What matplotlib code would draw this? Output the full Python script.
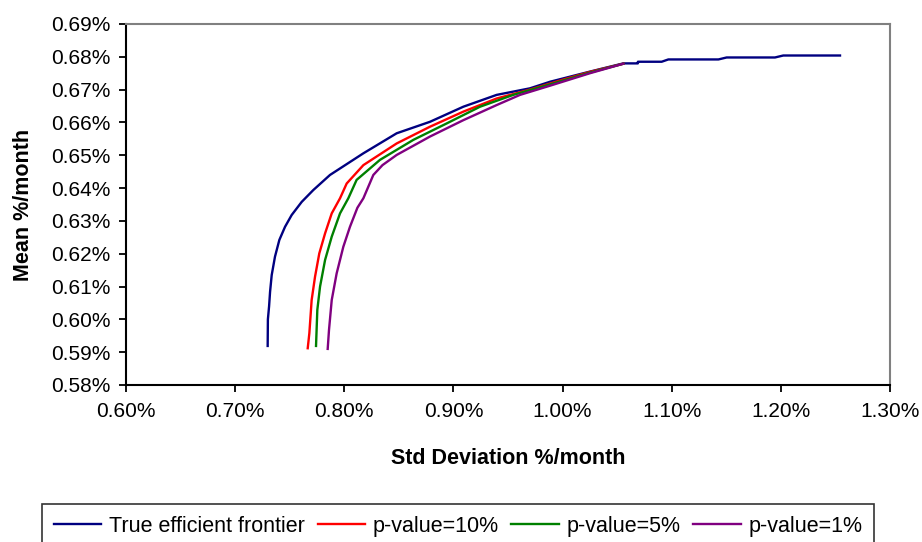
# Efficient frontier vs. p-value frontiers (mean vs std dev, % per month)
import matplotlib.pyplot as plt
from matplotlib.ticker import FuncFormatter

plt.rcParams['font.family'] = ['Liberation Sans', 'DejaVu Sans']

# values (% per month)
true_std = [0.7298, 0.7300, 0.7311, 0.7320, 0.7335, 0.7365, 0.7405, 0.7457, 0.7518, 0.7610,
            0.7716, 0.7869, 0.8175, 0.8480, 0.8785, 0.9091, 0.9396, 0.9701, 0.9885, 1.0251,
            1.0557, 1.0690, 1.0690, 1.0908, 1.0969, 1.1428, 1.1503, 1.1946, 1.2022, 1.2542]
true_mean = [0.5919, 0.6000, 0.6040, 0.6084, 0.6135, 0.6191, 0.6242, 0.6282, 0.6318, 0.6358,
             0.6394, 0.6440, 0.6506, 0.6567, 0.6602, 0.6648, 0.6684, 0.6704, 0.6724, 0.6755,
             0.6780, 0.6780, 0.6785, 0.6785, 0.6792, 0.6792, 0.6798, 0.6798, 0.6804, 0.6804]

p10_std = [0.7665, 0.7680, 0.7701, 0.7732, 0.7771, 0.7824, 0.7885, 0.7961, 0.8022, 0.8175,
           0.8480, 0.8785, 0.9091, 0.9396, 0.9700, 1.0000, 1.0251, 1.0557]
p10_mean = [0.5912, 0.5958, 0.6059, 0.6130, 0.6201, 0.6262, 0.6323, 0.6369, 0.6414, 0.6470,
            0.6536, 0.6587, 0.6633, 0.6673, 0.6700, 0.6730, 0.6754, 0.6779]

p5_std = [0.7741, 0.7753, 0.7778, 0.7824, 0.7885, 0.7961, 0.8037, 0.8113, 0.8327, 0.8633,
          0.8938, 0.9244, 0.9548, 0.9885, 1.0251, 1.0557]
p5_mean = [0.5919, 0.6029, 0.6100, 0.6181, 0.6252, 0.6323, 0.6369, 0.6425, 0.6486, 0.6547,
           0.6597, 0.6648, 0.6684, 0.6716, 0.6752, 0.6779]

p1_std = [0.7848, 0.7860, 0.7885, 0.7930, 0.7991, 0.8052, 0.8120, 0.8175, 0.8266, 0.8350,
          0.8480, 0.8785, 0.9091, 0.9396, 0.9610, 0.9885, 1.0251, 1.0557]
p1_mean = [0.5910, 0.5968, 0.6059, 0.6140, 0.6221, 0.6282, 0.6340, 0.6369, 0.6440, 0.6470,
           0.6501, 0.6557, 0.6607, 0.6653, 0.6684, 0.6712, 0.6750, 0.6779]

x_ticks = [0.60, 0.70, 0.80, 0.90, 1.00, 1.10, 1.20, 1.30]
y_ticks = [0.58, 0.59, 0.60, 0.61, 0.62, 0.63, 0.64, 0.65, 0.66, 0.67, 0.68, 0.69]

fig = plt.figure(figsize=(9.22, 5.42), dpi=100)
ax = fig.add_axes([126 / 922, 1 - 385 / 542, 764 / 922, 361 / 542])

ax.plot(true_std, true_mean, color='#000080', lw=1.7, label='True efficient frontier')
ax.plot(p10_std, p10_mean, color='#FF0000', lw=1.7, label='p-value=10%')
ax.plot(p5_std, p5_mean, color='#008000', lw=1.7, label='p-value=5%')
ax.plot(p1_std, p1_mean, color='#800080', lw=1.7, label='p-value=1%')

ax.set_xlim(0.60, 1.30)
ax.set_ylim(0.58, 0.69)
ax.set_xticks(x_ticks)
ax.set_yticks(y_ticks)
pct = FuncFormatter(lambda v, pos: f'{v:.2f}%')
ax.xaxis.set_major_formatter(pct)
ax.yaxis.set_major_formatter(pct)
ax.tick_params(direction='out', length=5, width=1.3, labelsize=15, colors='black')
ax.tick_params(axis='x', pad=7)
ax.tick_params(axis='y', pad=6)

# black left/bottom, grey top/right like the original
for s in ['left', 'bottom']:
    ax.spines[s].set_color('black')
    ax.spines[s].set_linewidth(1.5)
for s in ['top', 'right']:
    ax.spines[s].set_color('#808080')
    ax.spines[s].set_linewidth(1.5)

ax.set_xlabel('Std Deviation %/month', fontsize=15.5, fontweight='bold')
ax.set_ylabel('Mean %/month', fontsize=15.5, fontweight='bold')
ax.xaxis.set_label_coords(0.5, -0.175)
ax.yaxis.set_label_coords(-0.12, 0.5)

leg = fig.legend(loc='upper center', bbox_to_anchor=(458 / 922, 1 - 504 / 542), ncol=4,
                 fontsize=15.5, frameon=True, fancybox=False, edgecolor='black',
                 handlelength=2.2, handletextpad=0.35, columnspacing=0.6,
                 borderpad=0.55, borderaxespad=0)
leg.get_frame().set_linewidth(1.2)

plt.savefig('out.png', dpi=100)
